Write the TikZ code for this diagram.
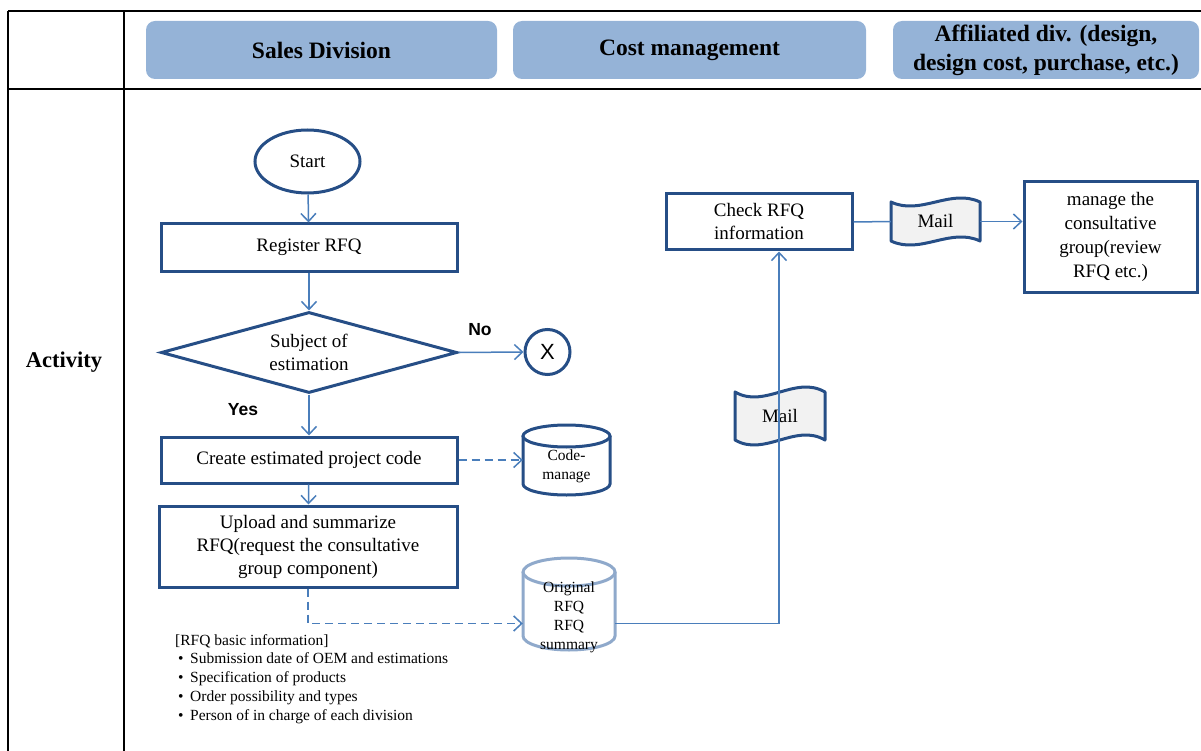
\documentclass[tikz,border=0pt]{standalone}
\usepackage{fontspec}
\setmainfont{Liberation Serif}
\newfontfamily\arialf{Liberation Sans}
\usetikzlibrary{shapes.geometric,arrows.meta}

\definecolor{boxblue}{HTML}{264E86}
\definecolor{linkblue}{HTML}{4A7EBB}
\definecolor{hdrfill}{HTML}{95B3D7}
\definecolor{dbgray}{HTML}{8FA9CB}
\definecolor{tapefill}{HTML}{F2F2F2}

\begin{document}
\begin{tikzpicture}[x=1pt,y=-1pt,
  tbl/.style={draw=black, line width=1.8pt},
  hdr/.style={fill=hdrfill, rounded corners=9pt, minimum height=58pt,
    font=\fontsize{23.5}{29}\selectfont\bfseries, align=center, inner sep=0pt},
  boxtext/.style={font=\fontsize{19}{23}\selectfont, align=center, inner sep=0pt},
  stepbox/.style={boxtext, draw=boxblue, line width=3pt, fill=white},
  smalltext/.style={font=\fontsize{15.5}{19}\selectfont, align=center, inner sep=0pt},
  flow/.style={draw=linkblue, line width=1.5pt,
    -{Straight Barb[length=8pt,width=15pt]}},
  plainflow/.style={draw=linkblue, line width=1.5pt},
  dashflow/.style={flow, dash pattern=on 8pt off 5pt},
  cyl/.style={draw=boxblue, line width=3pt, fill=white},
  cylpale/.style={draw=dbgray, line width=3pt, fill=white},
  tape/.style={draw=boxblue, line width=3pt, fill=tapefill, line join=round},
  yesno/.style={font=\arialf\bfseries\fontsize{17.5}{20}\selectfont, inner sep=0pt}
]
\useasboundingbox (0,0) rectangle (1201,751);

% ---------- table grid ----------
\draw[tbl] (8,11) -- (1201,11);
\draw[tbl] (8,11) -- (8,751);
\draw[tbl] (124,11) -- (124,751);
\draw[tbl, line width=2.6pt] (8,89) -- (1201,89);

% ---------- lane headers ----------
\node[hdr, minimum width=351pt] (hsales) at (321.5,50) {Sales Division};
\node[hdr, minimum width=353pt] (hcost) at (689.5,50) {Cost management};
\node[hdr, minimum width=306pt] (haff) at (1046,50)
  {Affiliated div. (design,\\design cost, purchase, etc.)};

\node[font=\fontsize{22.5}{27}\selectfont\bfseries] (act) at (64,362) {Activity};

% ---------- sales division flow ----------
\node[boxtext, ellipse, draw=boxblue, line width=3pt,
      minimum width=105pt, minimum height=63pt] (start) at (307.5,161.5) {Start};
\node[stepbox, minimum width=296pt, minimum height=47pt] (reg) at (309,247.5) {Register RFQ};
\node[boxtext, diamond, draw=boxblue, line width=3pt, aspect=3.65,
      minimum width=296pt, minimum height=81pt] (dec) at (309,352.5)
      {Subject of\\estimation};
\node[circle, draw=boxblue, line width=3pt, minimum size=45pt, inner sep=0pt,
      font=\arialf\fontsize{22}{24}\selectfont] (xend) at (547.5,352) {X};
\node[stepbox, minimum width=296pt, minimum height=46pt] (create) at (309,460)
  {Create estimated project code};
\node[stepbox, minimum width=298pt, minimum height=81pt] (upload) at (308,546.5)
  {Upload and summarize\\RFQ(request the consultative\\group component)};

% code management database
\draw[cyl] (523,436) -- (523,484)
  arc[start angle=180, end angle=360, x radius=43.5pt, y radius=11pt] -- (610,436);
\draw[cyl] (566.5,436) ellipse[x radius=43.5pt, y radius=11pt];
\node[smalltext, minimum width=87pt] (code) at (566.5,466) {Code-\\manage};

% RFQ archive
\draw[cylpale] (523,572) -- (523,636)
  arc[start angle=180, end angle=360, x radius=46pt, y radius=14pt] -- (615,572);
\draw[cylpale] (569,572) ellipse[x radius=46pt, y radius=14pt];
\node[smalltext, minimum width=92pt] (orig) at (569,617.5)
  {Original\\RFQ\\RFQ\\summary};

% RFQ basic information list
\node[anchor=north west, align=left, inner sep=0pt,
      font=\fontsize{15.5}{18.8}\selectfont] (info) at (175,634)
  {[RFQ basic information]\\
   \hspace{3pt}\makebox[12pt][l]{•}Submission date of OEM and estimations\\
   \hspace{3pt}\makebox[12pt][l]{•}Specification of products\\
   \hspace{3pt}\makebox[12pt][l]{•}Order possibility and types\\
   \hspace{3pt}\makebox[12pt][l]{•}Person of in charge of each division};

% ---------- cost management / affiliated ----------
\node[stepbox, minimum width=186pt, minimum height=56pt] (check) at (759,222)
  {Check RFQ\\information};
\node[stepbox, minimum width=173pt, minimum height=110pt,
      font=\fontsize{19}{24}\selectfont] (manage) at (1110.5,237)
  {manage the\\consultative\\group(review\\RFQ etc.)};

% mail documents (punched-tape outline)
\begin{scope}[shift={(935.5,221.5)}]
  \draw[tape] (-44.5,-19.5) .. controls (-14.8,-5.5) and (14.8,-33.5) .. (44.5,-19.5)
    -- (44.5,19.5) .. controls (14.8,5.5) and (-14.8,33.5) .. (-44.5,19.5) -- cycle;
\end{scope}
\node[boxtext, minimum width=89pt, minimum height=47pt] (mail1) at (935.5,221.5) {Mail};

\begin{scope}[shift={(780,416)}]
  \draw[tape] (-45,-24) .. controls (-15,-6.7) and (15,-41.3) .. (45,-24)
    -- (45,24) .. controls (15,6.7) and (-15,41.3) .. (-45,24) -- cycle;
\end{scope}
\node[boxtext, minimum width=90pt, minimum height=58pt] (mail2) at (780,416) {Mail};

% ---------- connectors ----------
\draw[flow] (start) -- (reg);
\draw[flow] (reg) -- (dec);
\draw[flow] (dec.east) -- (xend.west);
\draw[flow] (dec.south) -- (create.north);
\draw[flow] (create) -- (upload);
\draw[dashflow] (create.east) -- (create.east -| code.west);
\draw[dashflow] (upload.south) |- ([yshift=-6pt]orig.west);
\draw[flow] ([yshift=-6pt]orig.east) -| ([xshift=20pt]check.south);
\draw[plainflow] (check.east) -- (mail1.west);
\draw[flow] (mail1.east) -- (mail1.east -| manage.west);

\node[yesno] (nolbl) at (480,330) {No};
\node[yesno] (yeslbl) at (243,410) {Yes};

\end{tikzpicture}
\end{document}
